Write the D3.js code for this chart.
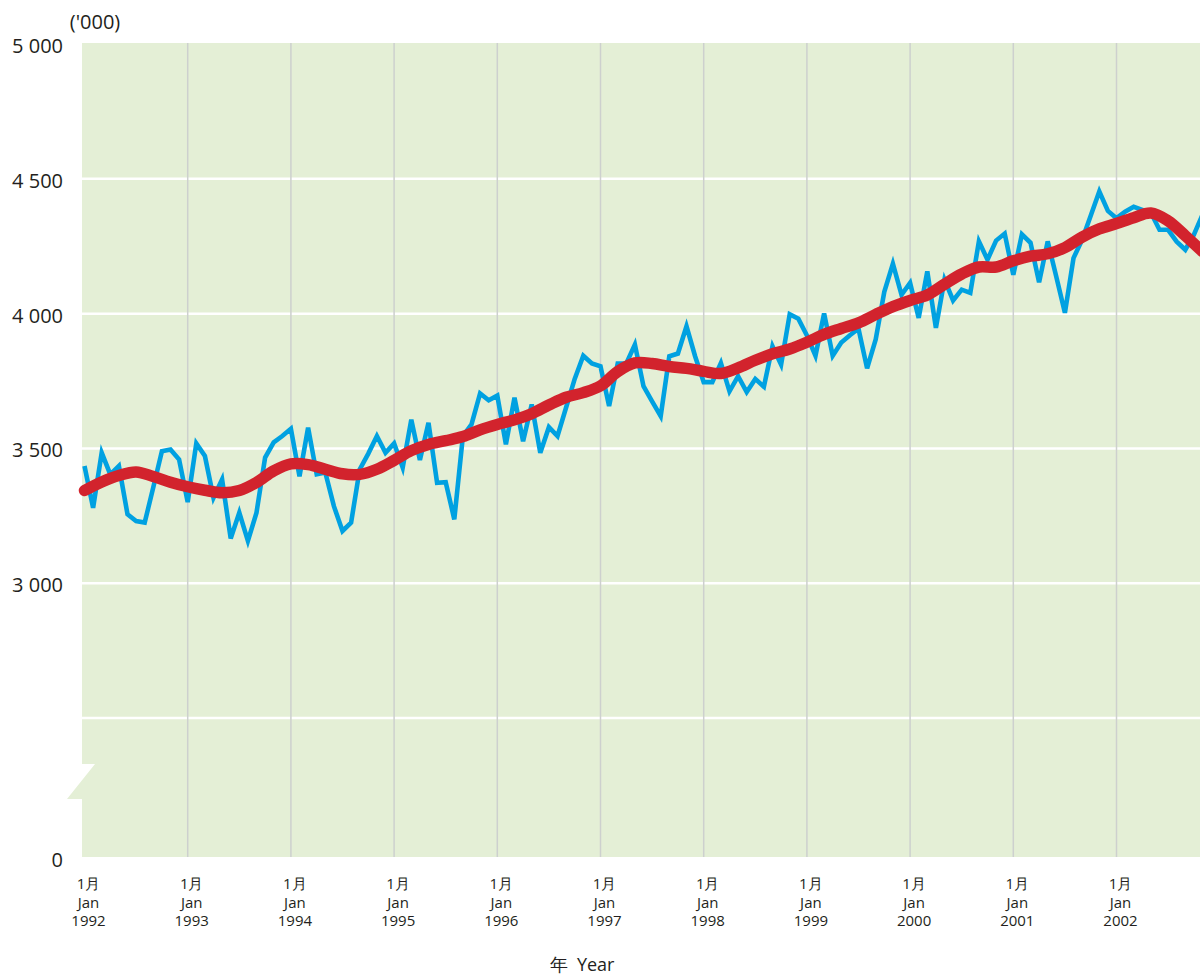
<!DOCTYPE html>
<html>
<head>
<meta charset="utf-8">
<script src="https://cdn.jsdelivr.net/npm/d3@7"></script>
<style>
  body { margin: 0; background: #fff; }
  text { font-family: "Open Sans", "Noto Sans", sans-serif; fill: #231f20; }
</style>
</head>
<body>
<div id="chart"></div>
<script>
// Monthly values ('000), first point is Dec 1991, last is Oct 2002
var monthly = [3435,
  3280, 3484, 3404, 3435, 3256, 3231, 3225, 3356, 3490, 3496, 3459, 3301,
  3519, 3472, 3317, 3385, 3166, 3262, 3157, 3262, 3466, 3523, 3546, 3573,
  3397, 3577, 3404, 3411, 3286, 3194, 3225, 3422, 3481, 3546, 3484, 3519,
  3429, 3607, 3457, 3595, 3373, 3375, 3237, 3546, 3589, 3704, 3679, 3696,
  3515, 3688, 3527, 3663, 3484, 3579, 3546, 3652, 3758, 3844, 3815, 3805,
  3657, 3815, 3815, 3885, 3731, 3675, 3620, 3842, 3852, 3953, 3842, 3746,
  3746, 3817, 3712, 3768, 3709, 3758, 3729, 3879, 3811, 3998, 3981, 3919,
  3844, 4001, 3844, 3893, 3920, 3944, 3797, 3904, 4081, 4185, 4070, 4114,
  3984, 4157, 3947, 4126, 4049, 4089, 4077, 4268, 4200, 4271, 4297, 4144,
  4294, 4263, 4116, 4268, 4137, 4003, 4206, 4274, 4363, 4453, 4381, 4354,
  4378, 4396, 4385, 4374, 4311, 4311, 4267, 4237, 4293, 4367];

// Trend values ('000), read every 2 months from Dec 1991
var trendStep = 2;
var trend = [3344, 3376, 3400, 3413, 3396, 3375, 3358, 3345, 3336, 3344, 3374,
  3417, 3443, 3440, 3423, 3406, 3404, 3423, 3456, 3492, 3515, 3529, 3544,
  3569, 3589, 3606, 3629, 3661, 3690, 3707, 3732, 3785, 3817, 3815, 3804,
  3797, 3786, 3778, 3799, 3827, 3851, 3869, 3894, 3923, 3945, 3966, 3997,
  4026, 4049, 4069, 4109, 4147, 4173, 4173, 4196, 4213, 4222, 4245, 4284,
  4314, 4334, 4356, 4373, 4344, 4289, 4230];

var years = [1992, 1993, 1994, 1995, 1996, 1997, 1998, 1999, 2000, 2001, 2002];
var monthLabelZh = '1月';
var monthLabelEn = 'Jan';
var yTicks = [0, 3000, 3500, 4000, 4500, 5000];
var yTickLabels = ['0', '3 000', '3 500', '4 000', '4 500', '5 000'];
var yGrid = [2500, 3000, 3500, 4000, 4500];

var width = 1200, height = 978;
var plot = {left: 82, right: 1200, top: 43, bottom: 857};

var svg = d3.select('#chart').append('svg')
    .attr('width', width)
    .attr('height', height);

// x: month index from Dec 1991
var x = d3.scaleLinear()
    .domain([0, 130])
    .range([84.5, 84.5 + 130 * 8.6]);

// y: broken axis, 0 sits at the bottom below the break
var y = d3.scaleLinear()
    .domain([0, 2200, 5000])
    .range([plot.bottom, 799, 44]);

// Background with the axis break notch
var bTop = y(2330), bBot = y(2200);
var bg = [[plot.left, plot.top], [plot.right, plot.top], [plot.right, plot.bottom],
  [plot.left, plot.bottom], [plot.left, bBot], [plot.left - 15, bBot],
  [plot.left + 13, bTop], [plot.left, bTop]];
svg.append('path')
    .attr('d', 'M' + bg.join('L') + 'Z')
    .attr('fill', '#e4efd6');

svg.append('clipPath').attr('id', 'plotclip')
  .append('rect')
    .attr('x', plot.left).attr('y', plot.top)
    .attr('width', plot.right - plot.left)
    .attr('height', plot.bottom - plot.top);

// Horizontal white grid
svg.append('g').selectAll('line')
    .data(yGrid).enter().append('line')
    .attr('x1', plot.left).attr('x2', plot.right)
    .attr('y1', function(d) { return y(d); })
    .attr('y2', function(d) { return y(d); })
    .attr('stroke', '#ffffff')
    .attr('stroke-width', 2.5);

// Vertical grey grid at each January
svg.append('g').selectAll('line')
    .data(years.slice(1)).enter().append('line')
    .attr('x1', function(d) { return x((d - 1992) * 12); })
    .attr('x2', function(d) { return x((d - 1992) * 12); })
    .attr('y1', plot.top).attr('y2', plot.bottom)
    .attr('stroke', '#cdd0ce')
    .attr('stroke-width', 1.5);

// Monthly line
var lineMonthly = d3.line()
    .x(function(d, i) { return x(i); })
    .y(function(d) { return y(d); });

svg.append('path')
    .datum(monthly)
    .attr('clip-path', 'url(#plotclip)')
    .attr('fill', 'none')
    .attr('stroke', '#00a1e1')
    .attr('stroke-width', 4.6)
    .attr('d', lineMonthly);

// Trend line
var lineTrend = d3.line()
    .curve(d3.curveCatmullRom)
    .x(function(d, i) { return x(i * trendStep); })
    .y(function(d) { return y(d); });

svg.append('path')
    .datum(trend)
    .attr('fill', 'none')
    .attr('stroke', '#d2232d')
    .attr('stroke-width', 11.5)
    .attr('stroke-linecap', 'round')
    .attr('d', lineTrend);

// Y labels
svg.append('g').selectAll('text')
    .data(yTicks).enter().append('text')
    .attr('x', 63)
    .attr('y', function(d) { return (d == 0 ? plot.bottom + 3 : y(d) + 2); })
    .attr('dy', '0.35em')
    .style('text-anchor', 'end')
    .style('font-size', '20px')
    .text(function(d, i) { return yTickLabels[i]; });

svg.append('text')
    .attr('x', 95).attr('y', 22)
    .attr('dy', '0.35em')
    .style('text-anchor', 'middle')
    .style('font-size', '20px')
    .text("('000)");

// X labels, three lines each
var xl = svg.append('g').selectAll('g')
    .data(years).enter().append('g')
    .attr('transform', function(d) { return 'translate(' + (x((d - 1992) * 12) + 4) + ',0)'; });
xl.append('text').attr('y', 884).attr('dy', '0.35em')
    .style('text-anchor', 'middle').style('font-size', '15px')
    .text(monthLabelZh);
xl.append('text').attr('y', 902.5).attr('dy', '0.35em')
    .style('text-anchor', 'middle').style('font-size', '15px')
    .text(monthLabelEn);
xl.append('text').attr('y', 921).attr('dy', '0.35em')
    .style('text-anchor', 'middle').style('font-size', '15px')
    .text(function(d) { return d; });

// x axis title
svg.append('text')
    .attr('x', 582).attr('y', 965)
    .attr('dy', '0.35em')
    .style('text-anchor', 'middle')
    .style('font-size', '18px')
    .attr('xml:space', 'preserve')
    .text('年  Year');
</script>
</body>
</html>
